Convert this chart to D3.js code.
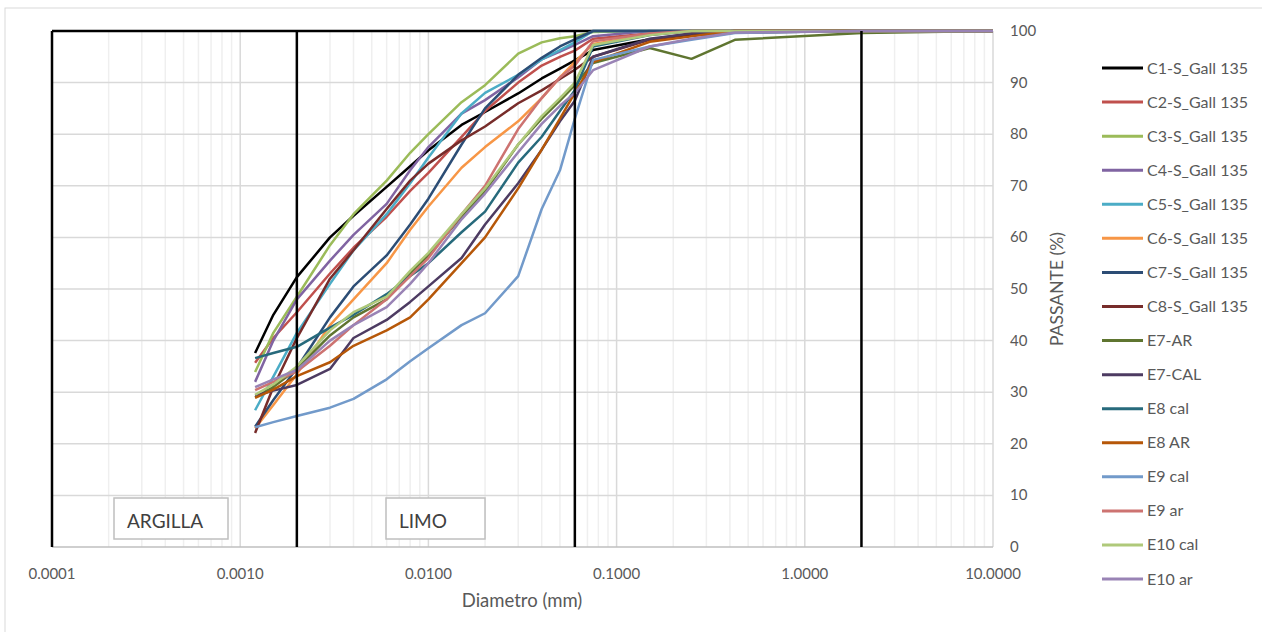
<!DOCTYPE html>
<html>
<head>
<meta charset="utf-8">
<script src="https://cdn.jsdelivr.net/npm/d3@7"></script>
<style>
  body { margin: 0; background: #fff; }
  text { font-family: Lato, "Liberation Sans", sans-serif; }
</style>
</head>
<body>
<div id="viz"></div>
<script>

// data (diameter in mm, passing in %)

const diam = [0.0012, 0.0015, 0.002, 0.003, 0.004, 0.006, 0.008, 0.01, 0.015, 0.02,
              0.03, 0.04, 0.05, 0.06, 0.075, 0.15, 0.25, 0.425, 2, 10];

const names = ["C1-S_Gall 135", "C2-S_Gall 135", "C3-S_Gall 135", "C4-S_Gall 135",
               "C5-S_Gall 135", "C6-S_Gall 135", "C7-S_Gall 135", "C8-S_Gall 135",
               "E7-AR", "E7-CAL", "E8 cal", "E8 AR", "E9 cal", "E9 ar", "E10 cal", "E10 ar"];

const colors = ["#000000", "#C0504D", "#9BBB59", "#8064A2", "#4BACC6", "#F79646", "#2C4D75", "#772C2A",
                "#5F7530", "#4D3B62", "#276A7C", "#B65708", "#729ACA", "#CD7371", "#AFC97A", "#9983B5"];

const c1 = [37.6, 45, 52.3, 60, 64.2, 69.8, 73.8, 76.9, 81.8, 84.3, 87.9, 90.8, 92.7, 94.3, 96.3, 98.4, 99.2, 99.7, 100, 100];
const c2 = [35.7, 40.5, 45.5, 53, 58, 64, 69, 72.5, 79.5, 84.5, 90, 93.3, 95, 96.2, 98.5, 99.5, 100, 100, 100, 100];
const c3 = [33.9, 41.5, 48.5, 58.5, 64.5, 71, 76.4, 80, 86.2, 89.5, 95.6, 97.8, 98.6, 99, 99.8, 100, 100, 100, 100, 100];
const c4 = [32, 40, 48, 55.5, 60.5, 66.5, 73, 77.5, 84, 86.6, 91, 94.5, 96, 97.3, 99, 100, 100, 100, 100, 100];
const c5 = [26.5, 33, 41.5, 51, 57.5, 64.5, 70.5, 75.5, 84, 88, 91.5, 94.5, 96.3, 97.8, 100, 100, 100, 100, 100, 100];
const c6 = [23, 27.5, 33.5, 43, 48, 55, 61.5, 66, 73.5, 77.5, 82.5, 87, 91, 94, 97.5, 99.3, 100, 100, 100, 100];
const c7 = [23.3, 28.5, 34.7, 44.5, 50.5, 56.5, 62.5, 67.5, 78, 85, 91.5, 94.8, 97, 98.4, 100, 100, 100, 100, 100, 100];
const c8 = [22.1, 31, 40.5, 52, 57.5, 65.5, 71, 74.3, 78.8, 81.5, 86, 88.5, 90.7, 92.5, 95, 98.3, 99.5, 100, 100, 100];
const e7ar = [29, 31, 34.5, 41, 44.5, 48, 53, 56.5, 64, 69, 78, 83, 86.5, 89.5, 93.8, 96.7, 94.6, 98.3, 99.6, 100];
const e7cal = [29.3, 30.3, 31.4, 34.5, 40.5, 44, 47.5, 50.5, 56, 62.5, 70.5, 77, 82.5, 86.5, 95, 98.5, 99.5, 100, 100, 100];
const e8cal = [36.6, 37.6, 38.8, 42.5, 45, 49, 52.5, 55, 61, 65, 74.5, 79.5, 84.5, 88.5, 97, 99.2, 100, 100, 100, 100];
const e8ar = [28.9, 30.5, 33.1, 35.8, 39, 42, 44.5, 48, 55, 60, 69.5, 77, 83, 88, 94, 97.9, 99, 100, 100, 100];
const e9cal = [23.2, 24.2, 25.4, 27, 28.7, 32.5, 36, 38.5, 43, 45.3, 52.5, 65.5, 73, 83, 94.4, 97, 98.3, 99.6, 100, 100];
const e9ar = [30.4, 32, 34, 39, 43, 48, 52.5, 56, 64.5, 70, 81, 87, 91, 93.3, 98, 99.5, 100, 100, 100, 100];
const e10cal = [29.5, 31.5, 35, 42, 45.5, 48.5, 53.5, 57, 64.5, 69.5, 78, 83.5, 87, 90, 97.3, 99.2, 100, 100, 100, 100];
const e10ar = [31, 32.5, 34.3, 40, 43, 46.5, 51, 55, 63.5, 68.5, 76.5, 82, 85.5, 88, 92.4, 97, 98.5, 99.7, 100, 100];

const values = [c1, c2, c3, c4, c5, c6, c7, c8, e7ar, e7cal, e8cal, e8ar, e9cal, e9ar, e10cal, e10ar];

const xTicks = [0.0001, 0.001, 0.01, 0.1, 1, 10];
const yTicks = d3.range(0, 101, 10);
const limits = [0.0001, 0.002, 0.06, 2];

const series = names.map((name, i) => ({
  name,
  color: colors[i],
  points: diam.map((d, j) => ({ d, p: values[i][j] }))
}));

// dimensions

const dms = {
  width: 1262,
  height: 632,
  left: 52,
  right: 993,
  top: 31,
  bottom: 547
};

// canvas

const svg = d3.select("#viz")
  .append("svg")
    .attr("width", dms.width)
    .attr("height", dms.height);

svg.append("rect")
    .attr("x", 5).attr("y", 8)
    .attr("width", 1400).attr("height", 800)
    .attr("fill", "none")
    .attr("stroke", "#d9d9d9");

// scales

const x = d3.scaleLog().domain([0.0001, 10]).range([dms.left, dms.right]);
const y = d3.scaleLinear().domain([0, 100]).range([dms.bottom, dms.top]);

// grid

const minor = [];
for (let k = -4; k < 1; k++) {
  for (let m = 2; m <= 9; m++) minor.push(m * Math.pow(10, k));
}

svg.append("g")
  .selectAll("line")
  .data(minor)
  .join("line")
    .attr("x1", d => x(d)).attr("x2", d => x(d))
    .attr("y1", y(0)).attr("y2", y(100))
    .attr("stroke", "#efefef")
    .attr("stroke-width", 1.5);

svg.append("g")
  .selectAll("line")
  .data(xTicks)
  .join("line")
    .attr("x1", d => x(d)).attr("x2", d => x(d))
    .attr("y1", y(0)).attr("y2", y(100))
    .attr("stroke", "#d9d9d9")
    .attr("stroke-width", 1.5);

svg.append("g")
  .selectAll("line")
  .data(yTicks)
  .join("line")
    .attr("x1", dms.left).attr("x2", dms.right)
    .attr("y1", d => y(d)).attr("y2", d => y(d))
    .attr("stroke", d => d === 0 ? "#bfbfbf" : "#d9d9d9")
    .attr("stroke-width", 1.5);

// top border line

svg.append("line")
    .attr("x1", x(0.0001)).attr("x2", x(10))
    .attr("y1", y(100)).attr("y2", y(100))
    .attr("stroke", "#000")
    .attr("stroke-width", 2.5);

// axes labels

svg.append("g")
  .selectAll("text")
  .data(xTicks)
  .join("text")
    .attr("x", d => x(d))
    .attr("y", 579)
    .attr("text-anchor", "middle")
    .attr("font-size", 15)
    .attr("fill", "#595959")
    .text(d3.format(".4f"));

svg.append("g")
  .selectAll("text")
  .data(yTicks)
  .join("text")
    .attr("x", 1010)
    .attr("y", d => y(d) + 5)
    .attr("font-size", 15)
    .attr("fill", "#595959")
    .text(d => d);

svg.append("text")
    .attr("x", 522)
    .attr("y", 607)
    .attr("text-anchor", "middle")
    .attr("font-size", 18.5)
    .attr("fill", "#595959")
    .text("Diametro (mm)");

svg.append("text")
    .attr("transform", "translate(1063, 289) rotate(-90)")
    .attr("text-anchor", "middle")
    .attr("font-size", 17.5)
    .attr("fill", "#595959")
    .text("PASSANTE (%)");

// curves

const line = d3.line()
  .x(d => x(d.d))
  .y(d => y(d.p));

svg.append("g")
  .selectAll("path")
  .data(series)
  .join("path")
    .attr("d", d => line(d.points))
    .attr("fill", "none")
    .attr("stroke", d => d.color)
    .attr("stroke-width", 2.5)
    .attr("stroke-linejoin", "round");

// limit lines

svg.append("g")
  .selectAll("line")
  .data(limits)
  .join("line")
    .attr("x1", d => x(d)).attr("x2", d => x(d))
    .attr("y1", y(0)).attr("y2", y(100))
    .attr("stroke", "#000")
    .attr("stroke-width", 2.5);

// text boxes

const boxes = [
  { label: "ARGILLA", x: 114, w: 114 },
  { label: "LIMO", x: 386, w: 99 }
];

const boxG = svg.append("g")
  .selectAll("g")
  .data(boxes)
  .join("g");

boxG.append("rect")
    .attr("x", d => d.x)
    .attr("y", 498)
    .attr("width", d => d.w)
    .attr("height", 41)
    .attr("fill", "#fff")
    .attr("stroke", "#bfbfbf")
    .attr("stroke-width", 1.5);

boxG.append("text")
    .attr("x", d => d.x + 13)
    .attr("y", 528)
    .attr("font-size", 19)
    .attr("fill", "#404040")
    .text(d => d.label);

// legend

const legend = svg.append("g")
  .selectAll("g")
  .data(series)
  .join("g")
    .attr("transform", (d, i) => `translate(1102, ${68 + i * 34.07})`);

legend.append("line")
    .attr("x1", 0).attr("x2", 41)
    .attr("stroke", d => d.color)
    .attr("stroke-width", 3);

legend.append("text")
    .attr("x", 45)
    .attr("y", 5.5)
    .attr("font-size", 16)
    .attr("fill", "#595959")
    .text(d => d.name);

</script>
</body>
</html>
